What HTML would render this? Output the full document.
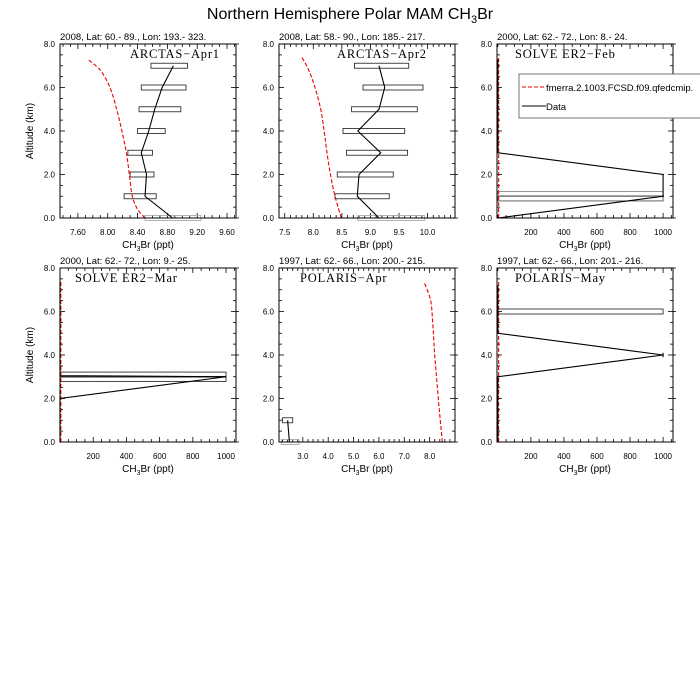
<!DOCTYPE html>
<html><head><meta charset="utf-8"><style>
body{margin:0;background:#fff}
svg{display:block;font-family:"Liberation Sans",sans-serif}
</style></head><body>
<svg id="s" width="700" height="700" viewBox="0 0 700 700" xmlns="http://www.w3.org/2000/svg">
<rect width="700" height="700" fill="#fff"/>
<text x="350" y="19" font-size="16" text-anchor="middle">Northern Hemisphere Polar MAM CH<tspan font-size="11" dy="4">3</tspan><tspan dy="-4">Br</tspan></text>
</svg>
<script>
const S=document.getElementById('s');let h='';
function smooth(pts){let d='M'+pts[0][0]+','+pts[0][1];for(let i=0;i<pts.length-1;i++){const p0=pts[Math.max(0,i-1)],p1=pts[i],p2=pts[i+1],p3=pts[Math.min(pts.length-1,i+2)];
 const c1=[p1[0]+(p2[0]-p0[0])/6,p1[1]+(p2[1]-p0[1])/6],c2=[p2[0]-(p3[0]-p1[0])/6,p2[1]-(p3[1]-p1[1])/6];d+=` C${c1} ${c2} ${p2}`;}return d;}
function P(o){
 const L=o.L,T=o.T,W=176,H=174,R=L+W,B=T+H;
 const X=v=>L+(v-o.x0)/(o.x1-o.x0)*W, Y=k=>B-k/8*H;
 let g='';
 g+=`<text x="${L}" y="${T-4}" font-size="9.5">${o.title}</text>`;
 for(let k=0;k<=16;k++){const y=Y(k*0.5),len=k%4==0?5:3;
  g+=`<line x1="${L}" y1="${y}" x2="${L+len}" y2="${y}" stroke="#000" stroke-width="0.8"/>`;
  g+=`<line x1="${R-len}" y1="${y}" x2="${R+(k%4==0?3:0)}" y2="${y}" stroke="#000" stroke-width="0.8"/>`;
  if(k%4==0)g+=`<text x="${L-5}" y="${y+3}" font-size="8" text-anchor="end">${(k/2).toFixed(1)}</text>`;}
 for(let i=0;;i++){const v=o.m0+i*o.ms;if(v>o.x1+1e-9)break;if(v<o.x0)continue;const x=X(v);const r=(v-o.t0)/o.ts;const maj=Math.abs(r-Math.round(r))<1e-6&&v>=o.t0-1e-9;const len=maj?5:3;
  g+=`<line x1="${x}" y1="${B}" x2="${x}" y2="${B-len}" stroke="#000" stroke-width="0.8"/><line x1="${x}" y1="${T}" x2="${x}" y2="${T+len}" stroke="#000" stroke-width="0.8"/>`;
  if(maj&&v<=o.tl+1e-9)g+=`<text x="${x}" y="${B+17}" font-size="8" text-anchor="middle">${o.fmt(v)}</text>`;}
 g+=`<text x="${L+W/2}" y="${B+30}" font-size="10" text-anchor="middle">CH<tspan font-size="7" dy="3">3</tspan><tspan dy="-3">Br (ppt)</tspan></text>`;
 if(o.yl)g+=`<text transform="translate(${L-27},${T+H/2}) rotate(-90)" font-size="10" text-anchor="middle">Altitude (km)</text>`;
 g+=`<text x="${o.lx}" y="${T+14}" font-size="12.5" font-family="Liberation Serif,serif" letter-spacing="0.8">${o.lab}</text>`;
 (o.boxes||[]).forEach(b=>{g+=`<rect x="${X(b[1])}" y="${Y(b[0])-2.5}" width="${X(b[2])-X(b[1])}" height="5" fill="none" stroke="${b[3]||'#333'}" stroke-width="0.9"/>`;});
 if(o.red)g+=`<path d="${smooth(o.red.map(p=>[X(p[0]),Y(p[1])]))}" fill="none" stroke="#e00" stroke-width="1.1" stroke-dasharray="4,2"/>`;
 if(o.blk)g+=`<polyline points="${o.blk.map(p=>X(p[0])+','+Y(p[1])).join(' ')}" fill="none" stroke="#000" stroke-width="1.1"/>`;
 (o.extra||[]).forEach(e=>{g+=`<polyline points="${e.map(p=>X(p[0])+','+Y(p[1])).join(' ')}" fill="none" stroke="#000" stroke-width="1.1"/>`;});
 g+=`<rect x="${L}" y="${T}" width="${W}" height="${H}" fill="none" stroke="#000" stroke-width="1"/>`;
 h+=g;}
const f2=v=>v.toFixed(2),f1=v=>v.toFixed(1),f0=v=>Math.round(v);
P({L:60,T:44,x0:7.36,x1:9.72,m0:7.4,ms:0.1,t0:7.6,ts:0.4,tl:9.6,fmt:f2,yl:1,lx:130,lab:'ARCTAS−Apr1',
 title:'2008, Lat:  60.- 89., Lon: 193.- 323.',
 boxes:[[0,8.5,9.25,'#aaa'],[1,8.22,8.65],[2,8.3,8.62],[3,8.27,8.6],[4,8.4,8.77],[5,8.42,8.98],[6,8.45,9.05],[7,8.58,9.07]],
 red:[[8.5,0],[8.4,0.4],[8.33,1],[8.29,2],[8.25,3],[8.19,4],[8.12,5],[8.03,6],[7.9,6.8],[7.73,7.3]],
 blk:[[8.87,0],[8.5,1],[8.52,2],[8.45,3],[8.55,4],[8.63,5],[8.73,6],[8.88,7]]});
P({L:279,T:44,x0:7.4,x1:10.48,m0:7.4,ms:0.1,t0:7.5,ts:0.5,tl:10,fmt:f1,lx:337,lab:'ARCTAS−Apr2',
 title:'2008, Lat:  58.- 90., Lon: 185.- 217.',
 boxes:[[0,8.78,9.95,'#aaa'],[1,8.38,9.33],[2,8.42,9.4],[3,8.58,9.65],[4,8.52,9.6],[5,8.67,9.82],[6,8.87,9.92],[7,8.72,9.67]],
 red:[[8.49,0],[8.38,1],[8.3,2],[8.24,3],[8.19,4],[8.13,5],[8.03,6],[7.92,6.8],[7.8,7.4]],
 blk:[[9.15,0],[8.77,1],[8.8,2],[9.18,3],[8.78,4],[9.15,5],[9.25,6],[9.15,7]]});
P({L:497,T:44,x0:-5,x1:1060,m0:0,ms:50,t0:200,ts:200,tl:1000,fmt:f0,lx:515,lab:'SOLVE ER2−Feb',
 title:'2000, Lat: 62.- 72., Lon: 8.- 24.',
 boxes:[[0.9,0,1000,'#555'],[1.1,0,1000,'#888']],
 red:[[5,0],[5,7.4]],
 blk:[[0,0],[1000,1],[1000,2],[0,3],[0,7.3]],extra:[[[995,1],[1005,1]],[[995,2],[1005,2]]]});
P({L:60,T:268,x0:0,x1:1060,m0:0,ms:50,t0:200,ts:200,tl:1000,fmt:f0,yl:1,lx:75,lab:'SOLVE ER2−Mar',
 title:'2000, Lat: 62.- 72., Lon: 9.- 25.',
 boxes:[[2.9,0,1000],[3.1,0,1000]],
 red:[[5,0],[5,7.4]],
 blk:[[0,0],[0,2],[1000,3],[0,3.05],[0,7.3]]});
P({L:279,T:268,x0:2.06,x1:9.0,m0:2.2,ms:0.2,t0:3,ts:1,tl:8,fmt:f1,lx:300,lab:'POLARIS−Apr',
 title:'1997, Lat: 62.- 66., Lon: 200.- 215.',
 boxes:[[0,2.15,2.85,'#aaa'],[1,2.2,2.6]],
 red:[[8.5,0],[8.38,1.5],[8.27,3],[8.2,4],[8.12,5.5],[8.04,6.5],[7.8,7.3]],
 blk:[[2.47,0],[2.4,1]]});
P({L:497,T:268,x0:-5,x1:1060,m0:0,ms:50,t0:200,ts:200,tl:1000,fmt:f0,lx:515,lab:'POLARIS−May',
 title:'1997, Lat: 62.- 66., Lon: 201.- 216.',
 boxes:[[6,0,1000]],
 red:[[5,0],[5,7.4]],
 blk:[[0,0],[0,3],[1000,4],[0,5],[0,7.2]],extra:[[[1000,3.9],[1000,4.1]]]});
h+=`<rect x="519" y="74" width="190" height="44" fill="#fff" stroke="#555" stroke-width="0.8"/>
<line x1="522" y1="87" x2="546" y2="87" stroke="#e00" stroke-width="1.1" stroke-dasharray="4,2"/>
<text x="546" y="91" font-size="9.5">fmerra.2.1003.FCSD.f09.qfedcmip.</text>
<line x1="522" y1="106" x2="546" y2="106" stroke="#000" stroke-width="1.1"/>
<text x="546" y="110" font-size="9.5">Data</text>`;
S.insertAdjacentHTML('beforeend',h);
</script>
</body></html>
